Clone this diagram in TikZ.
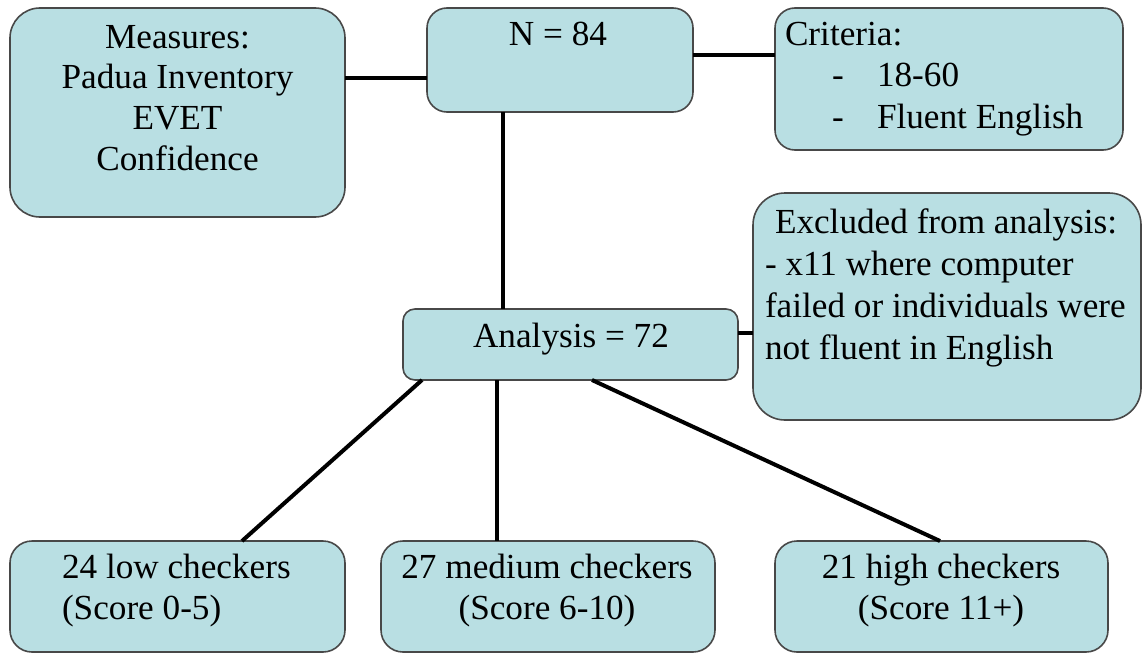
\documentclass[tikz,border=0pt]{standalone}
\usepackage{fontspec}
\setmainfont{Liberation Serif}
\usetikzlibrary{calc}
\definecolor{boxfill}{RGB}{185,223,227}
\definecolor{boxline}{RGB}{72,72,72}

\begin{document}
\begin{tikzpicture}[x=0.5pt,y=-0.5pt,
  box/.style={draw=boxline, line width=0.8pt, fill=boxfill, inner sep=0pt, outer sep=0pt, rectangle},
  link/.style={draw=black, line width=2pt},
  txt/.style={inner sep=0pt, outer sep=0pt, anchor=base},
  fs/.style={font=\fontsize{17.6}{#1}\selectfont}]
\clip (0,0) rectangle (1144,653);
\fill[white] (0,0) rectangle (1144,653);

% boxes
\node[box, rounded corners=15pt, minimum width=167.5pt, minimum height=104.5pt] (meas) at (177.5,112.5) {};
\node[box, rounded corners=10pt, minimum width=133pt, minimum height=52pt] (nbox) at (560,60) {};
\node[box, rounded corners=10pt, minimum width=174pt, minimum height=71pt] (crit) at (949,79) {};
\node[box, rounded corners=16pt, minimum width=194pt, minimum height=113.5pt] (excl) at (947,306.5) {};
\node[box, rounded corners=6pt, minimum width=167.5pt, minimum height=35.5pt] (ana) at (570.5,344.5) {};
\node[box, rounded corners=11pt, minimum width=167.5pt, minimum height=55.5pt] (low) at (177.5,596.5) {};
\node[box, rounded corners=11pt, minimum width=167pt, minimum height=55.5pt] (med) at (548,596.5) {};
\node[box, rounded corners=11pt, minimum width=166.5pt, minimum height=55.5pt] (high) at (941.5,596.5) {};

% texts
\node[txt, fs=20.35pt] (tmeas) at (177.5,48)
  {\begin{tabular}[t]{@{}c@{}}Measures:\\Padua Inventory\\EVET\\Confidence\end{tabular}};
\node[txt, fs=20.5pt] (tn) at (558,45) {N = 84};
\node[txt, fs=20.75pt, anchor=base west] (tcrit) at (785,45)
  {\begin{tabular}[t]{@{}l@{}}Criteria:\\
   \hspace*{23.5pt}\makebox[22.5pt][l]{-}18-60\\
   \hspace*{23.5pt}\makebox[22.5pt][l]{-}Fluent English\end{tabular}};
\node[txt, fs=21pt, anchor=base west] (texcl) at (765,233)
  {\begin{tabular}[t]{@{}l@{}}\hspace*{5pt}Excluded from analysis:\\
   - x11 where computer\\failed or individuals were\\not fluent in English\end{tabular}};
\node[txt, fs=20.5pt] (tana) at (571,347) {Analysis = 72};
\node[txt, fs=20.5pt, anchor=base west] (tlow) at (62,578)
  {\begin{tabular}[t]{@{}l@{}}24 low checkers\\(Score 0-5)\end{tabular}};
\node[txt, fs=20.5pt] (tmed) at (547,578)
  {\begin{tabular}[t]{@{}c@{}}27 medium checkers\\(Score 6-10)\end{tabular}};
\node[txt, fs=20.5pt] (thigh) at (941,578)
  {\begin{tabular}[t]{@{}c@{}}21 high checkers\\(Score 11+)\end{tabular}};

% connectors
\draw[link] ($(meas.east)+(0,-34.5)$) coordinate (m1) -- (m1 -| nbox.west);
\draw[link] ($(nbox.east)+(0,-5)$) coordinate (n1) -- (n1 -| crit.west);
\draw[link] ($(nbox.south)+(-57,0)$) coordinate (n2) -- (n2 |- ana.north);
\draw[link] ($(ana.east)+(0,-11.5)$) coordinate (a1) -- (a1 -| excl.west);
\draw[link] ($(ana.south west)+(19,0)$) -- ($(low.north west)+(232,0)$);
\draw[link] ($(ana.south west)+(94,0)$) coordinate (a2) -- (a2 |- med.north);
\draw[link] ($(ana.south west)+(189,0)$) -- ($(high.north west)+(165,0)$);
\end{tikzpicture}
\end{document}
